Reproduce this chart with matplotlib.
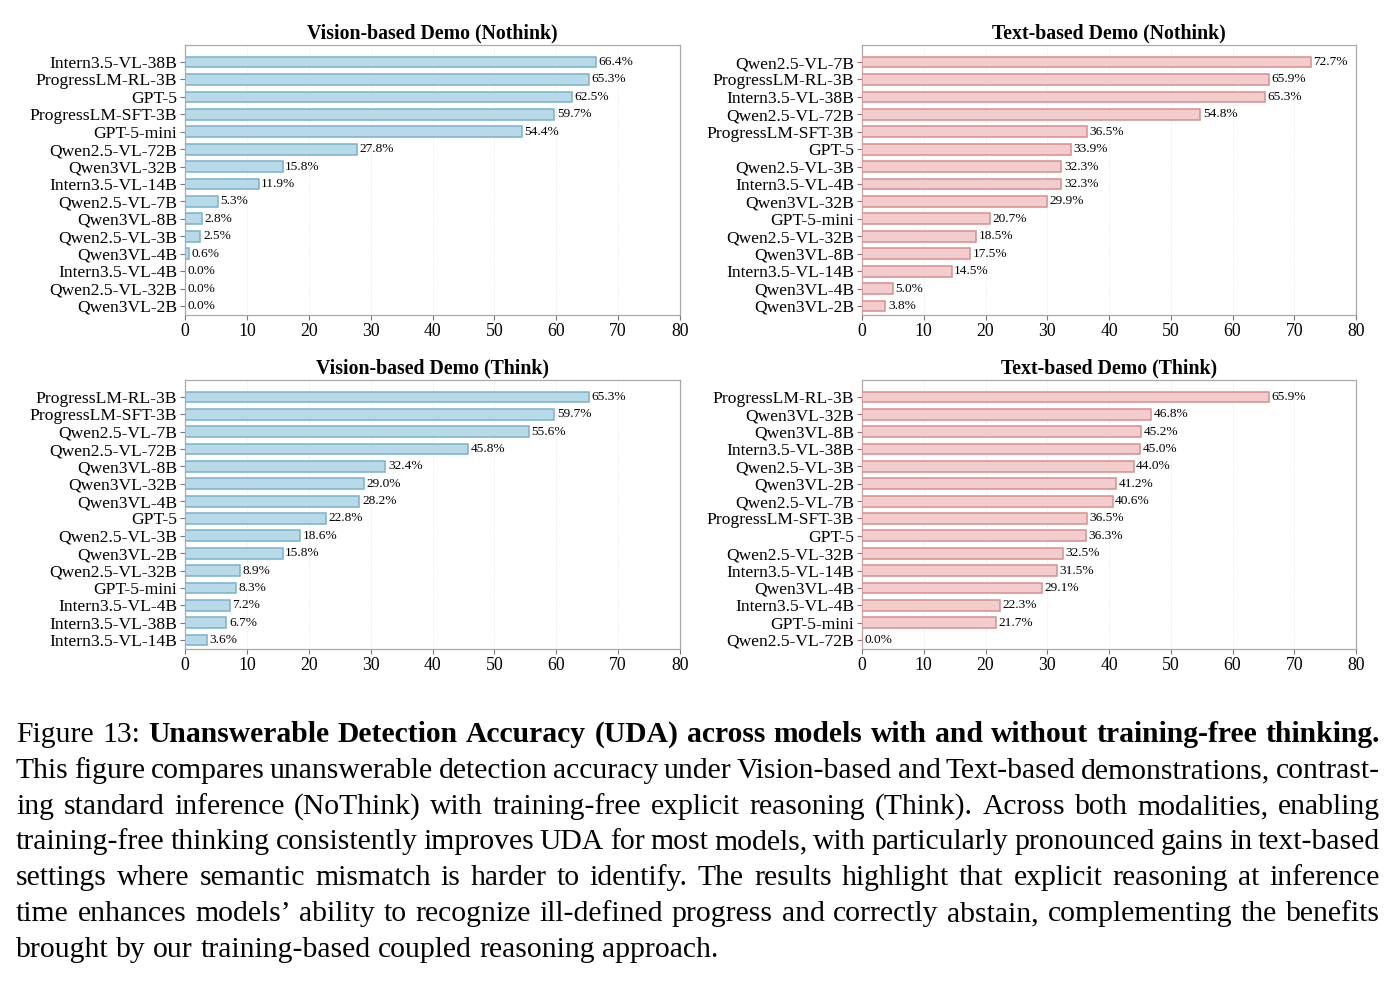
import matplotlib
matplotlib.use("Agg")
import matplotlib.pyplot as plt

plt.rcParams['font.family'] = ['Liberation Serif', 'DejaVu Serif']

# --- data -------------------------------------------------------------
vn_models = ["Intern3.5-VL-38B", "ProgressLM-RL-3B", "GPT-5", "ProgressLM-SFT-3B", "GPT-5-mini",
             "Qwen2.5-VL-72B", "Qwen3VL-32B", "Intern3.5-VL-14B", "Qwen2.5-VL-7B", "Qwen3VL-8B",
             "Qwen2.5-VL-3B", "Qwen3VL-4B", "Intern3.5-VL-4B", "Qwen2.5-VL-32B", "Qwen3VL-2B"]
vn_values = [66.4, 65.3, 62.5, 59.7, 54.4, 27.8, 15.8, 11.9, 5.3, 2.8, 2.5, 0.6, 0.0, 0.0, 0.0]

tn_models = ["Qwen2.5-VL-7B", "ProgressLM-RL-3B", "Intern3.5-VL-38B", "Qwen2.5-VL-72B", "ProgressLM-SFT-3B",
             "GPT-5", "Qwen2.5-VL-3B", "Intern3.5-VL-4B", "Qwen3VL-32B", "GPT-5-mini",
             "Qwen2.5-VL-32B", "Qwen3VL-8B", "Intern3.5-VL-14B", "Qwen3VL-4B", "Qwen3VL-2B"]
tn_values = [72.7, 65.9, 65.3, 54.8, 36.5, 33.9, 32.3, 32.3, 29.9, 20.7, 18.5, 17.5, 14.5, 5.0, 3.8]

vt_models = ["ProgressLM-RL-3B", "ProgressLM-SFT-3B", "Qwen2.5-VL-7B", "Qwen2.5-VL-72B", "Qwen3VL-8B",
             "Qwen3VL-32B", "Qwen3VL-4B", "GPT-5", "Qwen2.5-VL-3B", "Qwen3VL-2B",
             "Qwen2.5-VL-32B", "GPT-5-mini", "Intern3.5-VL-4B", "Intern3.5-VL-38B", "Intern3.5-VL-14B"]
vt_values = [65.3, 59.7, 55.6, 45.8, 32.4, 29.0, 28.2, 22.8, 18.6, 15.8, 8.9, 8.3, 7.2, 6.7, 3.6]

tt_models = ["ProgressLM-RL-3B", "Qwen3VL-32B", "Qwen3VL-8B", "Intern3.5-VL-38B", "Qwen2.5-VL-3B",
             "Qwen3VL-2B", "Qwen2.5-VL-7B", "ProgressLM-SFT-3B", "GPT-5", "Qwen2.5-VL-32B",
             "Intern3.5-VL-14B", "Qwen3VL-4B", "Intern3.5-VL-4B", "GPT-5-mini", "Qwen2.5-VL-72B"]
tt_values = [65.9, 46.8, 45.2, 45.0, 44.0, 41.2, 40.6, 36.5, 36.3, 32.5, 31.5, 29.1, 22.3, 21.7, 0.0]

x_ticks = [0, 10, 20, 30, 40, 50, 60, 70, 80]

caption_lines = [
    [("Figure 13:", "normal"), ("Unanswerable Detection Accuracy (UDA) across models with and without training-free thinking.", "bold")],
    [("This figure compares unanswerable detection accuracy under Vision-based and Text-based demonstrations, contrast-", "normal")],
    [("ing standard inference (NoThink) with training-free explicit reasoning (Think). Across both modalities, enabling", "normal")],
    [("training-free thinking consistently improves UDA for most models, with particularly pronounced gains in text-based", "normal")],
    [("settings where semantic mismatch is harder to identify. The results highlight that explicit reasoning at inference", "normal")],
    [("time enhances models\u2019 ability to recognize ill-defined progress and correctly abstain, complementing the benefits", "normal")],
    [("brought by our training-based coupled reasoning approach.", "normal")],
]

BLUE, BLUE_EDGE = "#b8d9e8", "#78b2cb"
PINK, PINK_EDGE = "#f3cdcd", "#d98e8e"

W, H = 1398, 981
fig = plt.figure(figsize=(W / 100, H / 100), dpi=100)

panels = [
    ("Vision-based Demo (Nothink)", vn_models, vn_values, BLUE, BLUE_EDGE, (185, 45, 680, 315)),
    ("Text-based Demo (Nothink)", tn_models, tn_values, PINK, PINK_EDGE, (862, 45, 1356, 315)),
    ("Vision-based Demo (Think)", vt_models, vt_values, BLUE, BLUE_EDGE, (185, 380, 680, 649)),
    ("Text-based Demo (Think)", tt_models, tt_values, PINK, PINK_EDGE, (862, 380, 1356, 649)),
]

for title, models, values, color, edge, (x0, y0, x1, y1) in panels:
    ax = fig.add_axes([x0 / W, 1 - y1 / H, (x1 - x0) / W, (y1 - y0) / H])
    pos = list(range(len(models)))
    ax.barh(pos, values, height=0.62, color=color, edgecolor=edge, linewidth=1.1, zorder=3)
    for p, v in zip(pos, values):
        ax.text(v + 0.4, p, f"{v:.1f}%", va="center", ha="left", fontsize=9.6, zorder=4)
    ax.set_yticks(pos)
    ax.set_yticklabels(models, fontsize=12.6)
    ax.set_ylim(len(models) - 0.48, -0.98)
    ax.set_xlim(0, 80)
    ax.set_xticks(x_ticks)
    ax.tick_params(axis="x", labelsize=12.8, length=3.5, color="#777777", pad=2)
    ax.tick_params(axis="y", length=3.5, color="#777777", pad=2)
    ax.grid(axis="x", color="#e2e2e2", linestyle=":", linewidth=0.6, zorder=0)
    for s in ax.spines.values():
        s.set_color("#aaaaaa")
        s.set_linewidth(0.9)
    ax.set_title(title, fontsize=14.3, fontweight="bold", pad=5)

# --- caption, justified word by word ------------------------------------
renderer = fig.canvas.get_renderer()
cap_size = 21.3
left_px, right_px = 16, 1380
baselines = [742, 778, 814, 849, 885, 921, 957]

probe1 = fig.text(0, 0, "a b", fontsize=cap_size)
probe2 = fig.text(0, 0, "ab", fontsize=cap_size)
space = probe1.get_window_extent(renderer).width - probe2.get_window_extent(renderer).width
probe1.remove()
probe2.remove()

for i, (segments, yb) in enumerate(zip(caption_lines, baselines)):
    words = []
    for txt, wt in segments:
        for w in txt.split(" "):
            words.append((w, wt))
    arts = [fig.text(0, 1 - yb / H, w, fontsize=cap_size, fontweight=wt, va="baseline", ha="left")
            for w, wt in words]
    widths = [a.get_window_extent(renderer).width for a in arts]
    if i == len(caption_lines) - 1:
        gap = space
    else:
        gap = (right_px - left_px - sum(widths)) / (len(arts) - 1)
    x = left_px
    for a, w in zip(arts, widths):
        a.set_x(x / W)
        x += w + gap

fig.savefig("out.png", dpi=100)
